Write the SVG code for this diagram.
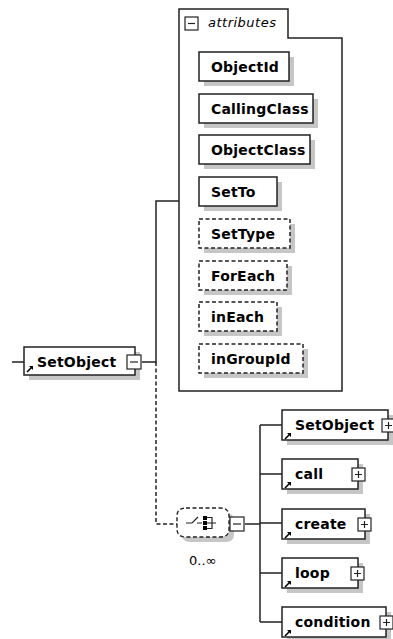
<svg xmlns="http://www.w3.org/2000/svg" width="393" height="639" viewBox="0 0 393 639">
  <style>
    .box { fill: #fff; stroke: #222; stroke-width: 1.5; }
    .opt { fill: #fff; stroke: #222; stroke-width: 1.5; stroke-dasharray: 4 2.5; }
    .shadow { fill: #c6c6c6; stroke: none; }
    .lbl { font-family: "DejaVu Sans", Verdana, sans-serif; font-weight: bold; font-size: 14px; letter-spacing: 0.2px; fill: #000; }
    .cap { font-family: "DejaVu Sans", Verdana, sans-serif; font-style: italic; font-size: 13px; letter-spacing: 0.5px; fill: #000; }
    .occ { font-family: "DejaVu Sans", Verdana, sans-serif; font-size: 13px; fill: #000; }
    .wire { fill: none; stroke: #222; stroke-width: 1.5; }
    .wire-dash { fill: none; stroke: #222; stroke-width: 1.5; stroke-dasharray: 4 2.5; }
    .btn { fill: #fff; stroke: #222; stroke-width: 1.2; }
    .glyph { stroke: #222; stroke-width: 1.2; fill: none; }
  </style>
  <defs>
    <!-- reference-link arrow drawn at the lower-left corner of element boxes -->
    <g id="ref">
      <path d="M0,6 L5,1" stroke="#000" stroke-width="1.6"/>
      <path d="M2,0 H6 V4 Z" fill="#000"/>
    </g>
    <g id="plus">
      <rect class="btn" x="0" y="0" width="13" height="13"/>
      <path class="glyph" d="M3,6.5 H10 M6.5,3 V10"/>
    </g>
    <g id="minus">
      <rect class="btn" x="0" y="0" width="14" height="14"/>
      <path class="glyph" d="M3,7 H11"/>
    </g>
  </defs>

  <rect width="393" height="639" fill="#fff"/>

  <!-- connectors -->
  <g id="connectors">
    <path class="wire" d="M12,362 H24"/>
    <path class="wire" d="M142,362 H156 V201 H179"/>
    <path class="wire-dash" d="M156,362 V524 H177"/>
    <path class="wire" d="M245,524 H260"/>
    <path class="wire" d="M260,425 V622"/>
    <path class="wire" d="M260,425 H282 M260,474 H282 M260,523 H282 M260,573 H282 M260,622 H282"/>
  </g>

  <!-- root element -->
  <g id="node-SetObject-root">
    <rect class="shadow" x="29" y="352" width="111" height="28"/>
    <rect class="box" x="24" y="347" width="111" height="28"/>
    <use href="#ref" x="27" y="366"/>
    <text class="lbl" x="37" y="367">SetObject</text>
    <use href="#minus" x="127" y="355"/>
  </g>

  <!-- attribute group -->
  <g id="attributes">
    <path class="box" d="M179,9 H288 V38 H342 V391 H179 Z"/>
    <g transform="translate(185,17)">
      <rect class="btn" x="0" y="0" width="13" height="13"/>
      <path class="glyph" d="M3,6.5 H10"/>
    </g>
    <text class="cap" x="208" y="27">attributes</text>
  </g>

  <g id="attr-ObjectId">
    <rect class="shadow" x="204" y="57" width="90" height="29"/>
    <rect class="box" x="199" y="52" width="90" height="29"/>
    <text class="lbl" x="211" y="71.5">ObjectId</text>
  </g>
  <g id="attr-CallingClass">
    <rect class="shadow" x="204" y="99" width="114" height="29"/>
    <rect class="box" x="199" y="94" width="114" height="29"/>
    <text class="lbl" x="211" y="113.5">CallingClass</text>
  </g>
  <g id="attr-ObjectClass">
    <rect class="shadow" x="204" y="140" width="111" height="29"/>
    <rect class="box" x="199" y="135" width="111" height="29"/>
    <text class="lbl" x="211" y="154.5">ObjectClass</text>
  </g>
  <g id="attr-SetTo">
    <rect class="shadow" x="204" y="182" width="78" height="29"/>
    <rect class="box" x="199" y="177" width="78" height="29"/>
    <text class="lbl" x="211" y="196.5">SetTo</text>
  </g>
  <g id="attr-SetType">
    <rect class="shadow" x="204" y="224" width="91" height="29"/>
    <rect class="opt" x="199" y="219" width="91" height="29"/>
    <text class="lbl" x="211" y="238.5">SetType</text>
  </g>
  <g id="attr-ForEach">
    <rect class="shadow" x="204" y="266" width="88" height="29"/>
    <rect class="opt" x="199" y="261" width="88" height="29"/>
    <text class="lbl" x="211" y="280.5">ForEach</text>
  </g>
  <g id="attr-inEach">
    <rect class="shadow" x="204" y="307" width="78" height="29"/>
    <rect class="opt" x="199" y="302" width="78" height="29"/>
    <text class="lbl" x="211" y="321.5">inEach</text>
  </g>
  <g id="attr-inGroupId">
    <rect class="shadow" x="204" y="349" width="104" height="29"/>
    <rect class="opt" x="199" y="344" width="104" height="29"/>
    <text class="lbl" x="211" y="363.5">inGroupId</text>
  </g>

  <!-- sequence compositor, 0..unbounded -->
  <g id="sequence">
    <path class="shadow" d="M190,513 H226 Q234,513 234,521 V534 Q234,542 226,542 H190 Q182,542 182,534 V521 Q182,513 190,513 Z"/>
    <path fill="#fff" stroke="#222" stroke-width="1.4" stroke-dasharray="4 2.5" d="M186,508 H220 Q229,508 229,516 V529 Q229,537 220,537 H186 Q177,537 177,529 V516 Q177,508 186,508 Z"/>
    <path class="glyph" d="M186,523 H192 L198,517 M197,523 H202"/>
    <rect x="203" y="516" width="4" height="4" fill="#000"/>
    <rect x="203" y="521" width="4" height="4" fill="#000"/>
    <rect x="203" y="526" width="4" height="4" fill="#000"/>
    <path class="glyph" d="M207,517.5 H212 V528.5 H207 M207,523 H216"/>
    <use href="#minus" x="230" y="517"/>
    <text class="occ" x="189" y="565">0..∞</text>
  </g>

  <!-- child elements -->
  <g id="node-SetObject">
    <rect class="shadow" x="287" y="415" width="106" height="30"/>
    <rect class="box" x="282" y="410" width="106" height="30"/>
    <use href="#ref" x="285" y="433"/>
    <text class="lbl" x="295" y="430">SetObject</text>
    <use href="#plus" x="382" y="419"/>
  </g>
  <g id="node-call">
    <rect class="shadow" x="287" y="464" width="76" height="30"/>
    <rect class="box" x="282" y="459" width="76" height="30"/>
    <use href="#ref" x="285" y="482"/>
    <text class="lbl" x="295" y="479">call</text>
    <use href="#plus" x="352" y="468"/>
  </g>
  <g id="node-create">
    <rect class="shadow" x="287" y="514" width="83" height="30"/>
    <rect class="box" x="282" y="509" width="83" height="30"/>
    <use href="#ref" x="285" y="532"/>
    <text class="lbl" x="295" y="529">create</text>
    <use href="#plus" x="358" y="518"/>
  </g>
  <g id="node-loop">
    <rect class="shadow" x="287" y="563" width="76" height="30"/>
    <rect class="box" x="282" y="558" width="76" height="30"/>
    <use href="#ref" x="285" y="581"/>
    <text class="lbl" x="295" y="578">loop</text>
    <use href="#plus" x="351" y="567"/>
  </g>
  <g id="node-condition">
    <rect class="shadow" x="287" y="612" width="104" height="30"/>
    <rect class="box" x="282" y="607" width="104" height="30"/>
    <use href="#ref" x="285" y="630"/>
    <text class="lbl" x="295" y="627">condition</text>
    <use href="#plus" x="380" y="616"/>
  </g>
</svg>
